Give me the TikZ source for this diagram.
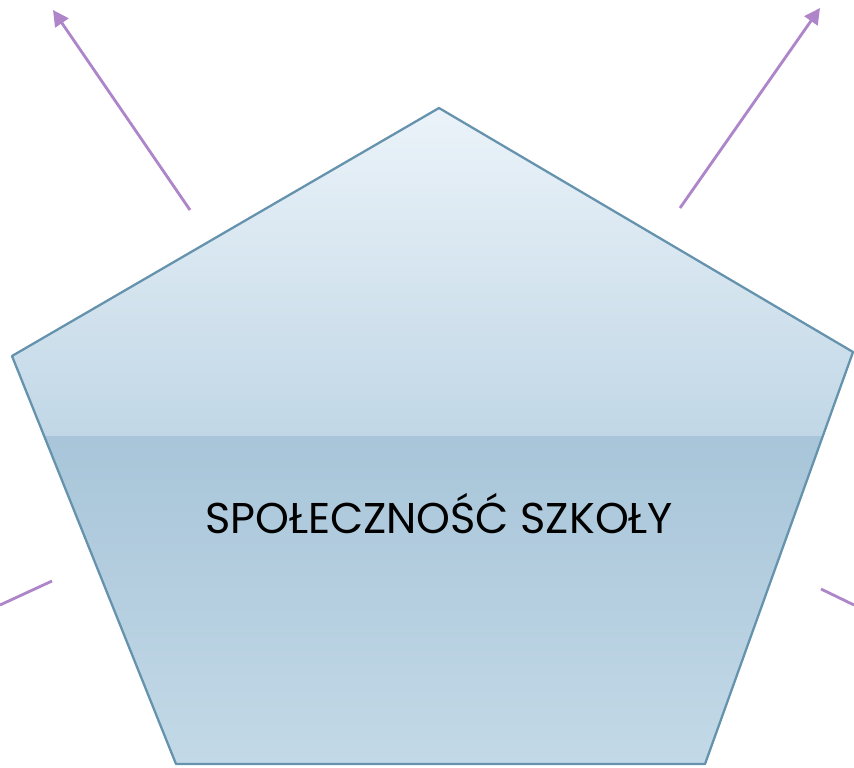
\documentclass[tikz,border=0pt]{standalone}
\usepackage{fontspec}
\setmainfont{Poppins}
\usetikzlibrary{arrows.meta}
\definecolor{rimblue}{HTML}{6593AD}
\definecolor{topblue}{HTML}{EBF3F9}
\definecolor{midblue}{HTML}{C1D7E6}
\definecolor{bandblue}{HTML}{A8C5D9}
\definecolor{lowblue}{HTML}{C3D9E7}
\definecolor{raycol}{HTML}{AD85C8}

\begin{document}
\begin{tikzpicture}[x=0.02cm, y=-0.02cm,
      rayarr/.style={-{Triangle[length=9pt,width=9pt]}, raycol, line width=1.6pt},
      rayline/.style={raycol, line width=1.6pt},
      rim/.style={rimblue, line width=1.3pt, line join=round},
      title/.style={font=\fontsize{24.5}{29}\selectfont, text=black}
    ]
    \useasboundingbox (0,0) rectangle (854,767);

    % pentagon corners
    \coordinate (top)   at (439,108);
    \coordinate (left)  at (12,356);
    \coordinate (right) at (853,352);
    \coordinate (botl)  at (176,764);
    \coordinate (botr)  at (705,764);

    \begin{scope}
      \clip (top) -- (right) -- (botr) -- (botl) -- (left) -- cycle;
      \shade[top color=topblue, bottom color=midblue] (0,108) rectangle (854,436);
      \shade[top color=bandblue, bottom color=lowblue] (0,436) rectangle (854,766);
    \end{scope}
    \draw[rim] (top) -- (right) -- (botr) -- (botl) -- (left) -- cycle;

    \node[title] (school) at (439,514) {SPOŁECZNOŚĆ SZKOŁY};

    % rays
    \coordinate (ulfoot) at (190,210);
    \coordinate (ultip)  at (53,10);
    \coordinate (urfoot) at (680,208);
    \coordinate (urtip)  at (820,8);
    \coordinate (llfoot) at (52,581);
    \coordinate (llend)  at (0,605);
    \coordinate (lrfoot) at (821,589);
    \coordinate (lrend)  at (854,605);

    \draw[rayarr]  (ulfoot) -- (ultip);
    \draw[rayarr]  (urfoot) -- (urtip);
    \draw[rayline] (llfoot) -- (llend);
    \draw[rayline] (lrfoot) -- (lrend);
  \end{tikzpicture}
\end{document}
